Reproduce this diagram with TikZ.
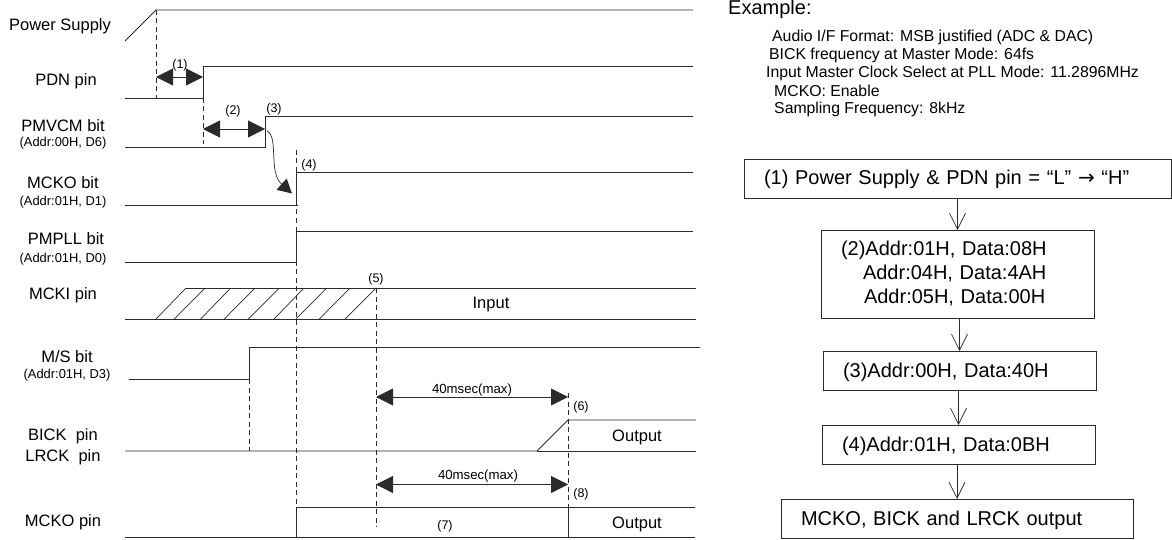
\documentclass[tikz,border=0pt]{standalone}
\usepackage{fontspec}
\setmainfont{Liberation Sans}
\newfontfamily\arrowfont{DejaVu Sans}
\usetikzlibrary{arrows.meta,calc,positioning}
\definecolor{traceink}{HTML}{2A2A2A}
\begin{document}
\begin{tikzpicture}[
  x=1pt,y=-1pt,
  font=\fontsize{16.5}{19}\selectfont,
  trace/.style={draw=traceink,line width=0.9pt},
  guide/.style={draw=traceink,line width=0.8pt,dash pattern=on 5pt off 3.5pt},
  gap/.style={draw=traceink,line width=0.8pt,{Triangle[length=17pt,width=17pt]}-{Triangle[length=17pt,width=17pt]}},
  flow/.style={draw=traceink,line width=0.8pt,-{Straight Barb[length=16pt,width=16pt,line width=0.7pt]}},
  sig/.style={inner sep=0pt,anchor=center},
  addr/.style={inner sep=0pt,anchor=center,font=\fontsize{12.9}{15}\selectfont},
  tag/.style={inner sep=0pt,anchor=center,font=\fontsize{12.5}{15}\selectfont},
  window/.style={inner sep=0pt,anchor=center,font=\fontsize{13.2}{15}\selectfont},
  setting/.style={inner sep=0pt,anchor=west,font=\fontsize{15.8}{18}\selectfont},
  stepbox/.style={draw=traceink,line width=0.8pt,outer sep=0pt,inner xsep=20pt,
                  inner ysep=0pt,align=left,minimum height=39pt,
                  text height=16pt,text depth=3pt,
                  font=\fontsize{20}{24}\selectfont}
]
\useasboundingbox (0,0) rectangle (1172,540);
\node[sig] (power) at (60,26) {Power Supply};
\node[sig] (pdn) at (66,81) {PDN pin};
\node[sig] (pmvcm) at (63,126) {PMVCM bit};
\node[addr] (pmvcmaddr) at (63,143) {(Addr:00H, D6)};
\node[sig] (mckobit) at (63,182.5) {MCKO bit};
\node[addr] (mckoaddr) at (63,202) {(Addr:01H, D1)};
\node[sig] (pmpll) at (66,239) {PMPLL bit};
\node[addr] (pmplladdr) at (63,259) {(Addr:01H, D0)};
\node[sig] (mcki) at (63,295.5) {MCKI pin};
\node[sig] (ms) at (67,356.5) {M/S bit};
\node[addr] (msaddr) at (67,375) {(Addr:01H, D3)};
\node[sig] (bick) at (63,436) {BICK\ \ pin};
\node[sig] (lrck) at (63,457) {LRCK\ \ pin};
\node[sig] (mckopin) at (63,522) {MCKO pin};
\node[sig] (input) at (491,305) {Input};
\node[sig] (bickout) at (637,437.5) {Output};
\node[sig] (mckoout) at (637,524.5) {Output};

\draw[trace] (125,41) -- (156,10) -- (693,10);
\draw[trace] (125,98) -- (203,98) -- (203,66) -- (693,66);
\draw[trace] (125,147) -- (265,147) -- (265,116) -- (693,116);
\draw[trace] (125,205) -- (298,205);
\draw[trace] (296,205) -- (296,172) -- (693,172);
\draw[trace] (125,262) -- (296,262) -- (296,231) -- (693,231);
\draw[trace] (186,288) -- (696,288);
\draw[trace] (125,319) -- (696,319);
\foreach \bx/\tx in {156/186,174.3/205,200.7/230.7,224.3/255,248.3/279.3,274/304,296/326.7,319.3/350,345/376}
  \draw[trace,line width=0.7pt] (\bx,319) -- (\tx,288);
\draw[trace] (129,379) -- (249,379) -- (249,347) -- (700,347);
\draw[trace] (125,451) -- (537,451) -- (568,420) -- (696,420);
\draw[trace] (537,451) -- (696,451);
\draw[trace] (125,537) -- (695,537);
\draw[trace] (296,537) -- (296,507) -- (695,507);
\draw[trace] (568,507) -- (568,537);

\draw[guide] (156,10) -- (156,98);
\draw[guide] (203,98) -- (203,144);
\draw[guide] (296,150) -- (296,507);
\draw[guide] (376,288) -- (376,527);
\draw[guide] (249,379) -- (249,451);
\draw[guide] (568,393) -- (568,507);

\coordinate (pwron) at (156,77);
\coordinate (pdnup) at (203,77);
\coordinate (pdnrel) at (203,129);
\coordinate (vcmup) at (265,129);
\coordinate (bitfrom) at (267,131);
\coordinate (bitto) at (292,193.5);
\coordinate (lockbick) at (376,397);
\coordinate (bickon) at (568,397);
\coordinate (lockmcko) at (376,484.5);
\coordinate (mckoon) at (568,484.5);
\draw[gap] (pwron) -- (pdnup);
\draw[gap] (pdnrel) -- (vcmup);
\draw[gap] (lockbick) -- (bickon);
\draw[gap] (lockmcko) -- (mckoon);
\draw[draw=traceink,line width=0.7pt,-{Triangle[length=14pt,width=15pt]}] (bitfrom)
  .. controls (279,137) and (268,172) .. (bitto);

\node[tag] (step1) at (180,65.5) {(1)};
\node[tag] (step2) at (233,111) {(2)};
\node[tag] (step3) at (274,109) {(3)};
\node[tag] (step4) at (309,165) {(4)};
\node[tag] (step5) at (376,279) {(5)};
\node[tag] (step6) at (581,407) {(6)};
\node[tag] (step7) at (445,526) {(7)};
\node[tag] (step8) at (581,494) {(8)};
\node[window] (maxbick) at (472,390) {40msec(max)};
\node[window] (maxmcko) at (478,476) {40msec(max)};

\node[sig,anchor=base west,font=\fontsize{20}{24}\selectfont] (example) at (728,14.5) {Example:};
\node[setting] (format) at (772,37) {Audio I/F Format: MSB justified (ADC \& DAC)};
\node[setting] (bickfreq) at (769,55) {BICK frequency at Master Mode: 64fs};
\node[setting] (clock) at (766,73) {Input Master Clock Select at PLL Mode: 11.2896MHz};
\node[setting] (enable) at (774,91) {MCKO: Enable};
\node[setting] (fs) at (774,109) {Sampling Frequency: 8kHz};

\node[stepbox,text width=387pt] (box1) at (957.5,178.5) {(1) Power Supply \& PDN pin = “L” {\arrowfont →} “H”};
\node[stepbox,text width=233pt,text height=,text depth=,minimum height=88pt] (box2) at (957.5,274)
  {(2)Addr:01H, Data:08H\\
   \hspace*{22pt}Addr:04H, Data:4AH\\
   \hspace*{23pt}Addr:05H, Data:00H};
\node[stepbox,text width=233pt,below=33pt of box2,xshift=2pt] (box3) {(3)Addr:00H, Data:40H};
\node[stepbox,text width=233pt,below=35pt of box3,xshift=-1pt] (box4) {(4)Addr:01H, Data:0BH};
\node[stepbox,text width=312pt,below=35pt of box4,xshift=-1.5pt] (box5) {MCKO, BICK and LRCK output};

\draw[flow] (box1.south -| box2.north) -- (box2.north);
\draw[flow] (box2.south -| box3.north) -- (box3.north);
\draw[flow] (box3.south -| box4.north) -- (box4.north);
\draw[flow] (box4.south -| box5.north) -- (box5.north);
\end{tikzpicture}
\end{document}
